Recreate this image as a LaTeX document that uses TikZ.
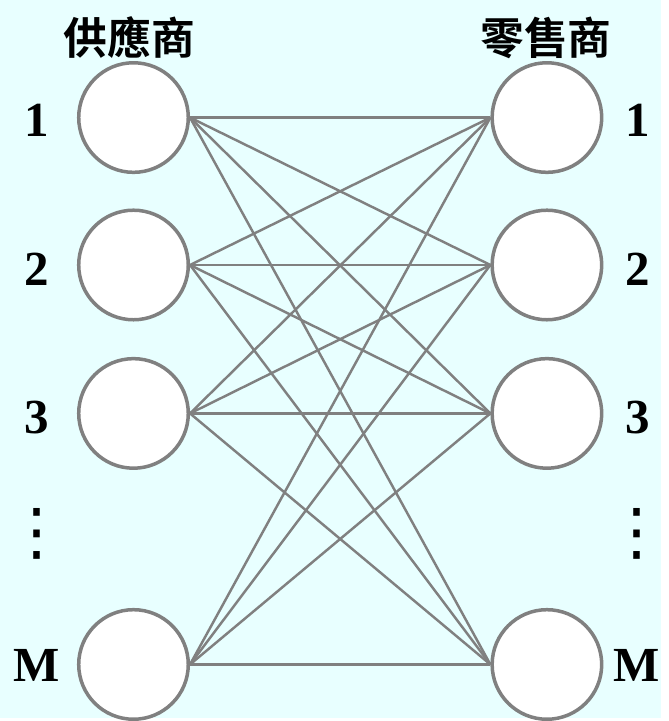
\documentclass[tikz,border=0pt]{standalone}
\usepackage{fontspec}
\setmainfont{Liberation Serif}
\newfontfamily\cjk{Noto Sans CJK TC Bold}
\newfontfamily\sym{DejaVu Sans}
\usepackage{tikz}
\usetikzlibrary{positioning}
\definecolor{bg}{RGB}{232,255,255}
\definecolor{rim}{RGB}{128,128,128}
\tikzset{
  party/.style={circle,draw=rim,fill=white,line width=2pt,minimum size=2.2cm,inner sep=0pt},
  tag/.style={font=\fontsize{28}{32}\selectfont\bfseries,inner sep=0pt},
  more/.style={font=\fontsize{36}{40}\selectfont\sym,inner sep=0pt},
  head/.style={font=\fontsize{25}{30}\selectfont\cjk,inner sep=0pt},
  link/.style={draw=rim,line width=1.4pt},
}
\begin{document}
\begin{tikzpicture}[x=0.02cm,y=-0.02cm]
  \fill[bg] (0,0) rectangle (664,721);
  % suppliers
  \node[party] (s1) at (134,118){};
  \node[party] (s2) at (134,266){};
  \node[party] (s3) at (134,415){};
  \node[party] (sm) at (134,667){};
  % retailers
  \node[party] (r1) at (549,118){};
  \node[party] (r2) at (549,266){};
  \node[party] (r3) at (549,415){};
  \node[party] (rm) at (549,667){};
  \node[head] (hs) at (130,38){供應商};
  \node[head] (hr) at (548,38){零售商};
  \node[tag] (ls1) at (37,121){1};  \node[tag] (lr1) at (640,121){1};
  \node[tag] (ls2) at (37,270){2};  \node[tag] (lr2) at (640,270){2};
  \node[tag] (ls3) at (37,419){3};  \node[tag] (lr3) at (640,419){3};
  \node[more] (lsd) at (37,536){⋮};  \node[more] (lrd) at (639,536){⋮};
  \node[tag] (lsm) at (37,668){M};  \node[tag] (lrm) at (639,668){M};
  \draw[link] (s1.east)--(r1.west); \draw[link] (s1.east)--(r2.west);
  \draw[link] (s1.east)--(r3.west); \draw[link] (s1.east)--(rm.west);
  \draw[link] (s2.east)--(r1.west); \draw[link] (s2.east)--(r2.west);
  \draw[link] (s2.east)--(r3.west); \draw[link] (s2.east)--(rm.west);
  \draw[link] (s3.east)--(r1.west); \draw[link] (s3.east)--(r2.west);
  \draw[link] (s3.east)--(r3.west); \draw[link] (s3.east)--(rm.west);
  \draw[link] (sm.east)--(r1.west); \draw[link] (sm.east)--(r2.west);
  \draw[link] (sm.east)--(r3.west); \draw[link] (sm.east)--(rm.west);
\end{tikzpicture}
\end{document}
